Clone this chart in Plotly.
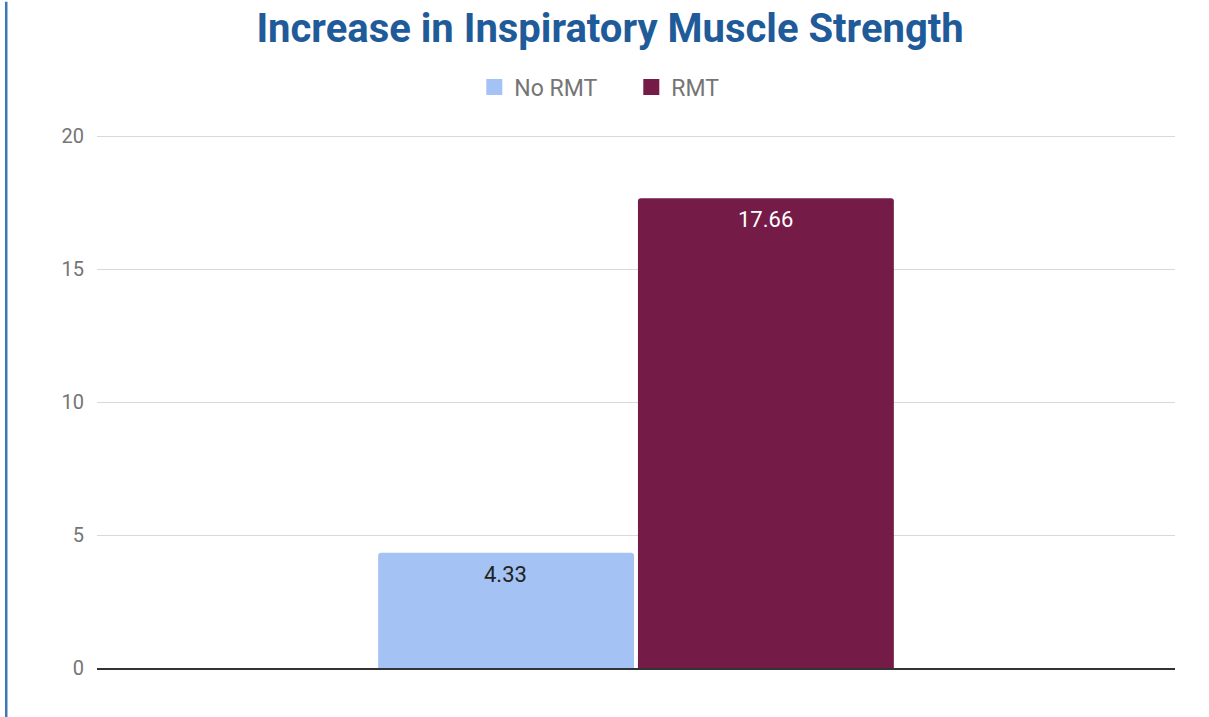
import plotly.graph_objects as go

categories = ["Inspiratory"]
series_names = ["No RMT", "RMT"]
no_rmt = [4.33]
rmt = [17.66]
colors = ["#a4c2f4", "#741b47"]
text_colors = ["#222222", "#ffffff"]
y_ticks = [0, 5, 10, 15, 20]

fig = go.Figure()
for name, vals, col in zip(series_names, [no_rmt, rmt], colors):
    fig.add_trace(go.Bar(
        x=categories, y=vals, name=name, showlegend=False,
        marker=dict(color=col, line=dict(width=0), cornerradius=3),
    ))
# Legend entries drawn as square swatches
for name, col in zip(series_names, colors):
    fig.add_trace(go.Scatter(
        x=[None], y=[None], mode="markers", name=name,
        marker=dict(symbol="square", size=16, color=col),
    ))

# Value labels placed just inside the top of each bar
shifts = [-131, 129]
for vals, tcol, dx in zip([no_rmt, rmt], text_colors, shifts):
    for cat, v in zip(categories, vals):
        fig.add_annotation(
            x=cat, y=v, xref="x", yref="y", text=f"{v:.2f}",
            showarrow=False, xshift=dx, yanchor="top", yshift=-7,
            font=dict(family="Roboto", size=22, color=tcol),
        )

fig.update_layout(
    width=1209, height=717,
    paper_bgcolor="white", plot_bgcolor="white",
    margin=dict(l=97, r=34, t=135, b=49),
    title=dict(
        text="<b>Increase in Inspiratory Muscle Strength</b>",
        x=0.5046, xanchor="center", y=0.981, yanchor="top",
        font=dict(family="Roboto", size=40, color="#1f5a99"),
    ),
    legend=dict(
        orientation="h", x=0.35, xanchor="left", y=1.09, yanchor="middle",
        font=dict(family="Roboto", size=23, color="#757575"),
        itemwidth=30, traceorder="normal", entrywidth=112,
    ),
    barmode="group", bargap=0.518, bargroupgap=0.015,
    showlegend=True,
)
fig.update_xaxes(type="category", range=[-0.5, 0.5], showticklabels=False,
                 showgrid=False, zeroline=False,
                 showline=True, linecolor="#333333", linewidth=1.5)
fig.update_yaxes(range=[0, 20.04], tickvals=y_ticks, showgrid=True,
                 gridcolor="#d9d9d9", gridwidth=1.2, zeroline=False,
                 tickfont=dict(family="Roboto", size=20, color="#757575"),
                 ticks="", ticklabelstandoff=12)

# Blue rule down the left edge of the page
fig.add_shape(type="line", xref="paper", yref="paper",
              x0=-0.0842, x1=-0.0842, y0=-0.12, y1=1.25,
              line=dict(color="#3b78b5", width=2.5))

fig.write_html("out.html")
